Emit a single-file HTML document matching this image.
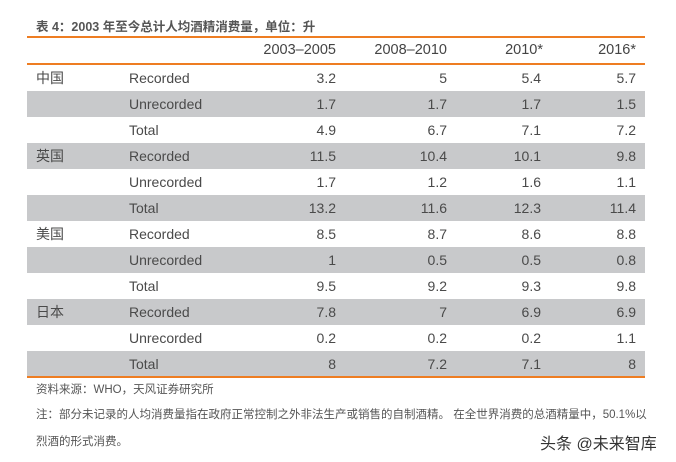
<!DOCTYPE html>
<html><head><meta charset="utf-8"><style>
body{margin:0;width:676px;height:462px;background:#fff;position:relative;overflow:hidden;font-family:"Liberation Sans","Noto Sans CJK SC",sans-serif;color:#555}
.t{position:absolute;white-space:nowrap}
.title{left:36px;top:16px;font-size:12.5px;font-weight:bold;color:#555}
.line{position:absolute;left:27px;width:618px;height:2px;background:#ee7d22}
.row{position:absolute;left:27px;width:618px;height:26px}
.g{background:#c8c9cb}
.c{position:absolute;top:0;line-height:26px;font-size:14px;color:#4a4a4a;white-space:nowrap}
.r{text-align:right}
.h{font-size:14.5px;color:#444}
.small{font-size:11.5px;color:#555}
</style></head><body>
<div class="t title">表 4：2003 年至今总计人均酒精消费量，单位：升</div>
<div class="line" style="top:36px"></div>
<div class="row" style="top:37px">
<span class="c h r" style="right:309px">2003–2005</span>
<span class="c h r" style="right:198px">2008–2010</span>
<span class="c h r" style="right:102px">2010*</span>
<span class="c h r" style="right:9px">2016*</span>
</div>
<div class="line" style="top:63px"></div>
<div id="rows"></div>
<div class="line" style="top:376px"></div>
<div class="t small" style="left:36px;top:381px">资料来源：WHO，天风证券研究所</div>
<div class="t small" style="left:36px;top:406px">注：部分未记录的人均消费量指在政府正常控制之外非法生产或销售的自制酒精。 在全世界消费的总酒精量中，50.1%以</div>
<div class="t small" style="left:36px;top:433px">烈酒的形式消费。</div>
<div class="t" style="left:540px;top:430px;font-size:16px;color:#333">头条 @未来智库</div>
<script>
var d=[["中国","Recorded","3.2","5","5.4","5.7"],["","Unrecorded","1.7","1.7","1.7","1.5"],["","Total","4.9","6.7","7.1","7.2"],
["英国","Recorded","11.5","10.4","10.1","9.8"],["","Unrecorded","1.7","1.2","1.6","1.1"],["","Total","13.2","11.6","12.3","11.4"],
["美国","Recorded","8.5","8.7","8.6","8.8"],["","Unrecorded","1","0.5","0.5","0.8"],["","Total","9.5","9.2","9.3","9.8"],
["日本","Recorded","7.8","7","6.9","6.9"],["","Unrecorded","0.2","0.2","0.2","1.1"],["","Total","8","7.2","7.1","8"]];
var h="";d.forEach(function(r,i){h+='<div class="row'+(i%2?' g':'')+'" style="top:'+(65+i*26)+'px">'+
'<span class="c" style="left:9px">'+r[0]+'</span><span class="c" style="left:102px">'+r[1]+'</span>'+
'<span class="c r" style="right:309px">'+r[2]+'</span><span class="c r" style="right:198px">'+r[3]+'</span>'+
'<span class="c r" style="right:104px">'+r[4]+'</span><span class="c r" style="right:9px">'+r[5]+'</span></div>';});
document.getElementById("rows").innerHTML=h;
</script>
</body></html>
